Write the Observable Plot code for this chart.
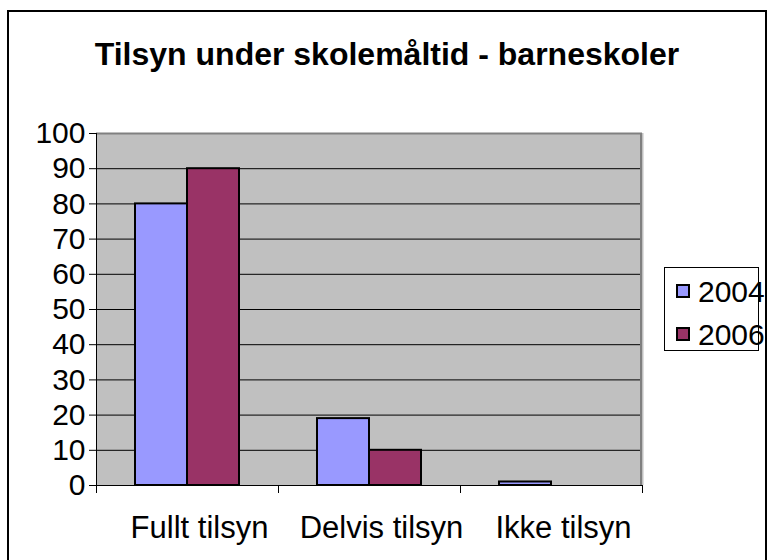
<!DOCTYPE html>
<html>
<head>
<meta charset="utf-8">
<script src="https://cdn.jsdelivr.net/npm/d3@7"></script>
<script src="https://cdn.jsdelivr.net/npm/@observablehq/plot@0.6"></script>
<style>
  html, body { margin: 0; padding: 0; background: #fff; }
  body { width: 768px; height: 560px; overflow: hidden; position: relative; font-family: "Liberation Sans", Arial, sans-serif; }
  #border { position: absolute; left: 7px; top: 10px; width: 760px; height: 600px; box-sizing: border-box; border: 2px solid #000; z-index: 5; pointer-events: none; }
  #title { position: absolute; left: 7px; top: 38px; width: 760px; text-align: center; font-weight: bold; font-size: 32px; line-height: 32px; white-space: nowrap; }
  #chart { position: absolute; left: 0; top: 0; }
  #legend { position: absolute; left: 664px; top: 267px; width: 95px; height: 84px; box-sizing: border-box; border: 1px solid #000; background: #fff; overflow: visible; }
  .item { position: absolute; left: 11px; height: 30px; white-space: nowrap; }
  .sw { position: absolute; left: 0; width: 14px; height: 14px; box-sizing: border-box; border: 2px solid #000; }
  .lab { position: absolute; left: 22px; font-size: 30px; line-height: 30px; }
</style>
</head>
<body>
<div id="chart"></div>
<div id="title"></div>
<div id="legend"></div>
<div id="border"></div>
<script>
const titleText = "Tilsyn under skolemåltid - barneskoler";
const categories = ["Fullt tilsyn", "Delvis tilsyn", "Ikke tilsyn"];
const years = ["2004", "2006"];
const values2004 = [80, 19, 1];
const values2006 = [90, 10, 0];
const yTicks = [0, 10, 20, 30, 40, 50, 60, 70, 80, 90, 100];
const colors = ["#9999FF", "#993366"];

const series = [values2004, values2006];
const data = categories.flatMap((c, i) => years.map((yr, j) => ({category: c, year: yr, value: series[j][i]})));
const yMax = yTicks[yTicks.length - 1];
const allCats = categories.map(c => ({category: c, top: yMax}));
const firstCat = allCats.slice(0, 1);
const lastCat = allCats.slice(-1);

document.getElementById("title").textContent = titleText;

const plotH = 560 - 133 - 75;
const facetW = (768 - 96 - 126) / categories.length;

const chart = Plot.plot({
  width: 768,
  height: 560,
  marginLeft: 96,
  marginRight: 126,
  marginTop: 133,
  marginBottom: 75,
  style: {fontFamily: "Liberation Sans, Arial, sans-serif", fontSize: "30px", color: "#000", background: "transparent", overflow: "visible"},
  fx: {domain: categories, padding: 0, label: null},
  x: {domain: years, paddingInner: 0, paddingOuter: 0.75, axis: null},
  y: {domain: [0, yMax], label: null},
  color: {domain: years, range: colors},
  marks: [
    // plot-area background, slightly overlapping next facet to avoid seams
    Plot.barY(allCats, {fx: "category", y: "top", fill: "#C0C0C0", insetRight: -1.5}),
    Plot.gridY(yTicks.filter(t => t > 0 && t < yMax), {stroke: "#000", strokeOpacity: 1, strokeWidth: 1}),
    Plot.ruleY([yMax], {stroke: "#808080", strokeWidth: 2}),
    // right border of plot area (gray), only in last facet
    Plot.barY(lastCat, {fx: "category", y: "top", fill: "#808080", insetLeft: facetW - 2}),
    Plot.barY(data.filter(d => d.value > 0), {fx: "category", x: "year", y: "value", fill: "year", stroke: "#000", strokeWidth: 2}),
    Plot.ruleY([0], {stroke: "#000", strokeWidth: 1}),
    // value axis line, only in first facet
    Plot.barY(firstCat, {fx: "category", y: "top", fill: "#000", insetRight: facetW - 1}),
    // category boundary tick marks below the axis
    Plot.frame({anchor: "left", stroke: "#000", strokeWidth: 1, insetTop: plotH, insetBottom: -7}),
    Plot.frame({anchor: "right", stroke: "#000", strokeWidth: 1, insetTop: plotH, insetBottom: -7}),
    Plot.axisY({ticks: yTicks, tickSize: 7, tickPadding: 4, label: null, fontSize: 30}),
    Plot.axisFx({anchor: "bottom", tickSize: 0, tickPadding: 30, label: null, fontSize: 31, dx: 12})
  ]
});
document.getElementById("chart").appendChild(chart);

const legend = document.getElementById("legend");
years.forEach((yr, i) => {
  const item = document.createElement("div");
  item.className = "item";
  item.style.top = (i === 0 ? 9 : 52) + "px";
  const sw = document.createElement("div");
  sw.className = "sw";
  sw.style.background = colors[i];
  sw.style.top = "7px";
  const lab = document.createElement("div");
  lab.className = "lab";
  lab.style.top = "0px";
  lab.textContent = yr;
  item.appendChild(sw);
  item.appendChild(lab);
  legend.appendChild(item);
});
</script>
</body>
</html>
